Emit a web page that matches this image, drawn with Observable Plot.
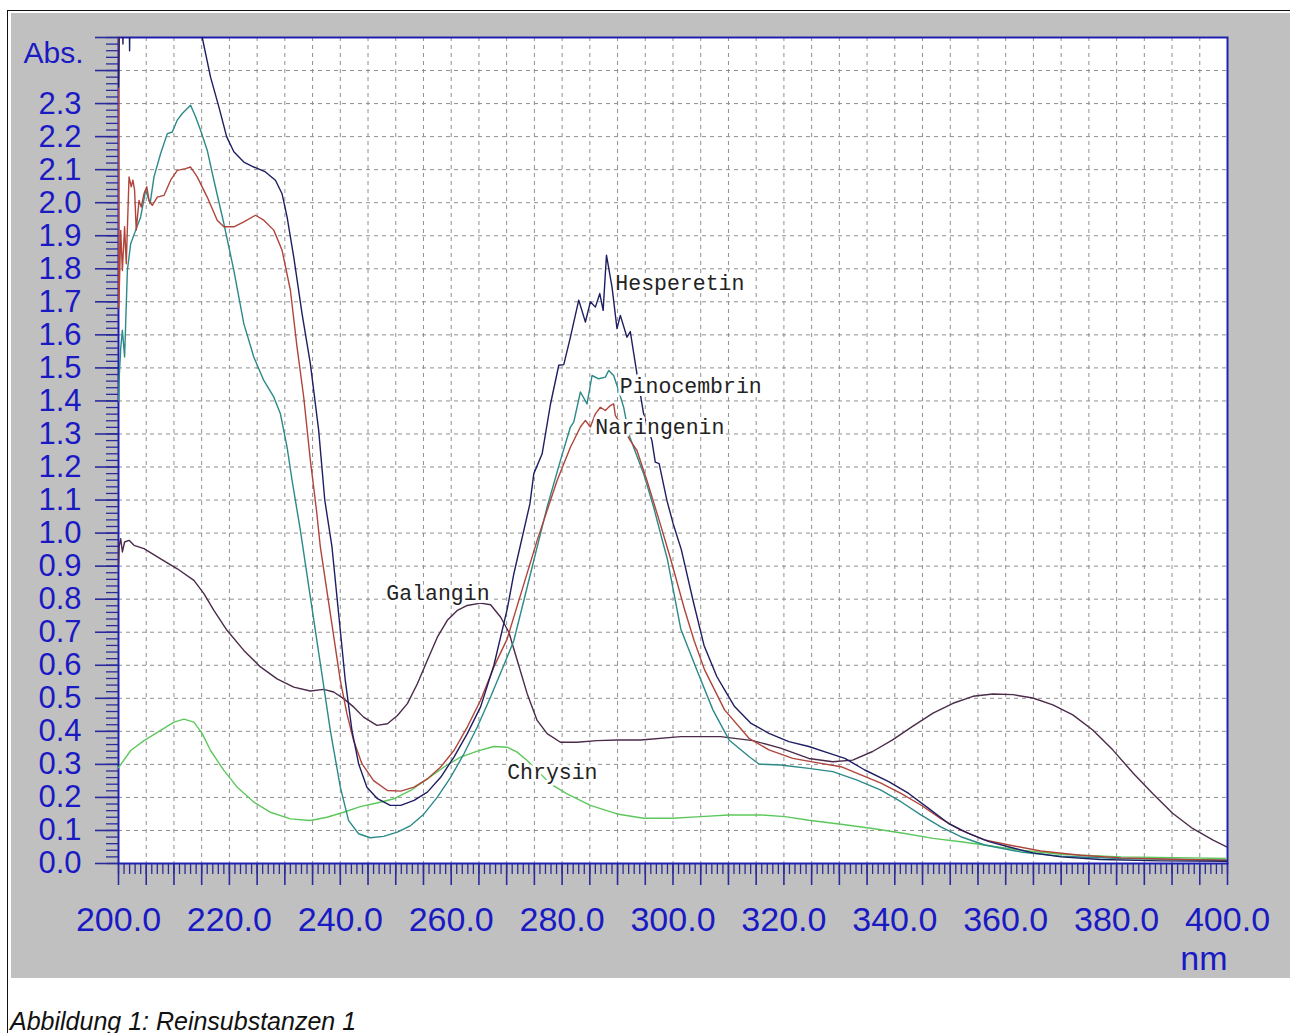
<!DOCTYPE html>
<html>
<head>
<meta charset="utf-8">
<script src="https://cdn.jsdelivr.net/npm/d3@7"></script>
<script src="https://cdn.jsdelivr.net/npm/@observablehq/plot@0.6"></script>
<style>
  html, body { margin: 0; padding: 0; background: #ffffff; width: 1290px; height: 1033px; overflow: hidden; }
  #border { position: absolute; left: 7px; top: 10px; width: 1400px; height: 1100px; border-left: 1.5px solid #111; border-top: 1.5px solid #111; }
  #chart { position: absolute; left: 11px; top: 13px; }
  #chart svg { display: block; }
  #caption { position: absolute; left: 10px; top: 1009px; font: italic 25px "Liberation Sans", Arial, sans-serif; line-height: 1; color: #111; white-space: nowrap; }
</style>
</head>
<body>
<div id="border"></div>
<div id="chart"></div>
<div id="caption">Abbildung 1: Reinsubstanzen 1</div>
<script>
// ---- data: [wavelength nm, absorbance] ----
const hesperetin = [[200.0,2.35],[200.2,2.6],[200.7,2.6],[200.8,2.48],[200.9,2.6],[201.9,2.6],[202.0,2.46],[202.1,2.6],[214.0,2.6],[215.1,2.50],[216.6,2.38],[218.1,2.29],[219.5,2.20],[220.8,2.154],[222.6,2.123],[224.4,2.108],[226.5,2.093],[228.3,2.068],[229.5,2.027],[230.4,1.957],[231.6,1.836],[233.1,1.664],[234.6,1.513],[236.1,1.311],[237.2,1.10],[238.5,0.958],[239.7,0.756],[240.9,0.554],[242.1,0.403],[243.3,0.302],[244.8,0.231],[246.7,0.196],[249.0,0.176],[250.9,0.176],[253.3,0.191],[255.7,0.216],[258.1,0.261],[260.5,0.322],[262.9,0.393],[265.3,0.474],[267.7,0.60],[270.1,0.77],[271.3,0.877],[274.2,1.089],[274.9,1.18],[276.4,1.24],[277.9,1.39],[279.4,1.508],[280.3,1.51],[281.5,1.593],[283.0,1.705],[284.2,1.639],[285.1,1.70],[286.0,1.684],[286.8,1.725],[287.4,1.674],[288.0,1.841],[289.0,1.745],[289.9,1.619],[290.5,1.659],[291.7,1.593],[292.3,1.61],[293.5,1.482],[294.7,1.361],[296.2,1.28],[296.8,1.215],[297.5,1.21],[298.9,1.099],[300.0,1.03],[301.5,0.95],[303.7,0.79],[305.6,0.66],[307.9,0.566],[309.5,0.52],[311.1,0.475],[314.0,0.425],[317.3,0.394],[320.9,0.369],[324.5,0.354],[328.1,0.334],[331.0,0.318],[334.6,0.283],[338.9,0.248],[342.5,0.212],[346.1,0.167],[349.7,0.121],[353.3,0.091],[357.0,0.066],[360.6,0.05],[364.9,0.032],[370.0,0.02],[377.0,0.012],[388.0,0.008],[400.0,0.007]];

const pinocembrin = [[200.0,1.40],[200.1,1.462],[200.4,1.56],[200.7,1.614],[201.1,1.533],[201.6,1.795],[202.2,1.876],[203.1,1.917],[204.0,1.957],[204.9,2.038],[205.7,1.997],[206.4,2.078],[207.6,2.149],[208.8,2.209],[209.7,2.214],[210.6,2.25],[211.5,2.27],[213.0,2.295],[213.9,2.26],[214.8,2.219],[216.0,2.159],[217.2,2.068],[219.0,1.937],[220.8,1.795],[222.6,1.634],[224.4,1.533],[226.2,1.462],[228.0,1.412],[229.2,1.361],[230.4,1.26],[231.3,1.16],[232.8,1.008],[234.6,0.806],[236.4,0.605],[238.2,0.403],[240.0,0.231],[241.5,0.13],[243.3,0.09],[245.4,0.078],[247.8,0.082],[250.3,0.095],[252.7,0.115],[255.1,0.15],[257.5,0.201],[259.9,0.261],[262.3,0.332],[264.7,0.413],[267.1,0.504],[270.1,0.625],[271.3,0.675],[274.3,0.877],[277.3,1.079],[279.7,1.22],[281.5,1.321],[282.1,1.336],[283.3,1.427],[284.5,1.391],[285.4,1.477],[286.6,1.467],[287.8,1.472],[288.4,1.492],[289.3,1.477],[289.9,1.447],[291.1,1.381],[292.0,1.301],[292.9,1.26],[294.7,1.18],[296.5,1.079],[298.2,0.97],[299.0,0.92],[301.4,0.71],[304.3,0.586],[307.2,0.465],[310.1,0.374],[313.7,0.324],[315.5,0.301],[319.4,0.298],[324.5,0.288],[328.8,0.278],[333.1,0.253],[337.5,0.222],[341.1,0.187],[344.7,0.147],[348.3,0.111],[351.9,0.081],[356.2,0.056],[362.7,0.035],[369.9,0.022],[380.8,0.015],[400.0,0.010]];

const naringenin = [[200.0,2.6],[200.05,1.68],[200.2,1.775],[200.4,1.916],[200.7,1.795],[201.1,1.927],[201.4,1.815],[201.9,2.078],[202.3,2.048],[202.6,2.068],[202.9,2.038],[203.2,1.917],[203.7,2.007],[204.1,1.987],[204.6,2.027],[205.1,2.048],[205.5,2.007],[206.1,1.992],[207.0,2.017],[208.2,2.022],[209.4,2.068],[210.6,2.098],[212.1,2.103],[213.0,2.108],[214.2,2.078],[216.0,2.017],[217.8,1.947],[219.0,1.927],[220.8,1.927],[222.6,1.942],[224.7,1.962],[226.2,1.947],[228.0,1.917],[229.5,1.856],[231.0,1.735],[232.2,1.563],[233.4,1.412],[234.6,1.22],[235.7,1.07],[236.4,0.958],[238.2,0.756],[240.0,0.554],[241.2,0.453],[242.4,0.372],[243.9,0.302],[246.0,0.251],[248.5,0.221],[250.9,0.219],[253.3,0.231],[255.7,0.256],[258.1,0.292],[260.5,0.342],[262.9,0.413],[265.3,0.494],[267.7,0.595],[270.1,0.68],[275.5,0.978],[279.1,1.159],[281.5,1.26],[283.3,1.321],[284.2,1.341],[285.1,1.321],[286.0,1.361],[286.9,1.381],[287.8,1.371],[288.7,1.386],[289.3,1.391],[289.6,1.356],[292.3,1.28],[293.5,1.25],[295.3,1.159],[297.7,1.028],[299.6,0.92],[302.1,0.768],[303.8,0.675],[305.7,0.586],[309.3,0.465],[313.7,0.379],[317.3,0.344],[321.6,0.318],[326.7,0.303],[330.3,0.293],[333.9,0.268],[337.5,0.243],[341.1,0.212],[344.7,0.177],[348.3,0.136],[351.9,0.101],[356.2,0.071],[360.6,0.056],[366.3,0.038],[373.5,0.025],[380.8,0.017],[391.6,0.012],[400.0,0.010]];

const galangin = [[200.0,0.907],[200.1,0.958],[200.4,0.983],[200.7,0.943],[201.1,0.973],[201.9,0.978],[202.8,0.963],[204.6,0.953],[207.6,0.922],[210.6,0.892],[213.6,0.857],[215.4,0.817],[217.2,0.766],[219.6,0.705],[222.6,0.645],[225.6,0.595],[228.6,0.559],[231.6,0.534],[234.6,0.522],[237.0,0.527],[238.8,0.519],[240.6,0.499],[242.4,0.474],[244.2,0.443],[246.6,0.418],[248.5,0.423],[250.3,0.448],[252.1,0.484],[253.9,0.544],[255.7,0.615],[257.5,0.685],[259.3,0.736],[261.1,0.766],[262.9,0.781],[265.3,0.788],[267.1,0.783],[268.9,0.746],[270.4,0.70],[271.9,0.615],[273.7,0.514],[275.5,0.433],[277.3,0.393],[279.7,0.367],[282.7,0.367],[286.3,0.372],[289.9,0.374],[294.2,0.374],[301.4,0.384],[308.6,0.384],[314.4,0.372],[319.4,0.349],[324.5,0.318],[328.8,0.308],[332.4,0.313],[336.0,0.339],[339.6,0.374],[343.2,0.415],[346.9,0.455],[350.5,0.485],[354.1,0.506],[357.7,0.513],[361.3,0.511],[364.9,0.501],[368.5,0.48],[372.1,0.45],[375.7,0.404],[379.3,0.344],[383.0,0.273],[386.5,0.212],[390.1,0.152],[393.7,0.106],[397.4,0.071],[400.0,0.049]];

const chrysin = [[200.0,0.29],[202.2,0.342],[204.6,0.372],[207.6,0.403],[210.0,0.428],[211.8,0.437],[213.6,0.428],[215.1,0.393],[216.6,0.342],[219.0,0.282],[221.4,0.231],[224.4,0.186],[227.4,0.155],[231.0,0.135],[234.6,0.13],[237.6,0.14],[240.6,0.155],[243.6,0.172],[246.6,0.183],[249.7,0.196],[252.7,0.221],[255.7,0.256],[258.7,0.292],[261.7,0.322],[264.7,0.340],[267.7,0.354],[270.1,0.352],[271.9,0.337],[273.7,0.312],[277.9,0.241],[280.9,0.211],[285.1,0.176],[289.9,0.15],[294.7,0.137],[300.0,0.137],[305.0,0.142],[310.0,0.147],[315.8,0.147],[320.2,0.142],[324.5,0.131],[330.3,0.119],[336.0,0.106],[341.8,0.091],[346.9,0.076],[351.9,0.066],[356.2,0.056],[362.7,0.04],[369.9,0.028],[380.8,0.02],[400.0,0.015]];

// series names, colours, label anchors [nm, abs]
const seriesNames = ["Chrysin", "Galangin", "Pinocembrin", "Naringenin", "Hesperetin"];
const seriesData = [chrysin, galangin, pinocembrin, naringenin, hesperetin];
const seriesColors = ["#5cc85c", "#4b2a4a", "#2a8a88", "#b0443a", "#1e1e62"];
const labelPos = [[270.1, 0.276], [248.3, 0.817], [290.4, 1.445], [286.0, 1.321], [289.6, 1.756]];

// axis tick values
const xTickLabels = [200, 220, 240, 260, 280, 300, 320, 340, 360, 380, 400];
const yTickLabels = [0.0, 0.1, 0.2, 0.3, 0.4, 0.5, 0.6, 0.7, 0.8, 0.9, 1.0, 1.1, 1.2, 1.3, 1.4, 1.5, 1.6, 1.7, 1.8, 1.9, 2.0, 2.1, 2.2, 2.3];

const xMinor = d3.range(200, 401, 1);
const xMajor = d3.range(200, 401, 5);
const xGrid = d3.range(205, 400, 5);
const yMinor = d3.range(0, 126).map(i => i / 50);
const yMajor = d3.range(0, 26).map(i => i / 10);
const yGrid = d3.range(1, 25).map(i => i / 10);

const axisBlue = "#2a2a9c";
const labelBlue = "#1a1ac4";

const rows = seriesData.flatMap((s, i) => s.map(([nm, a]) => ({name: seriesNames[i], nm, a})));
const labels = seriesNames.map((n, i) => ({name: n, nm: labelPos[i][0], a: labelPos[i][1]}));

const chart = Plot.plot({
  width: 1279,
  height: 965,
  marginLeft: 107,
  marginRight: 63,
  marginTop: 24,
  marginBottom: 115,
  style: {background: "#c0c0c0", fontFamily: "'Liberation Sans', Arial, sans-serif", overflow: "visible"},
  x: {domain: [200, 400], axis: null},
  y: {domain: [0, 2.5], axis: null},
  color: {domain: seriesNames, range: seriesColors},
  marks: [
    Plot.frame({fill: "#ffffff", stroke: null}),
    Plot.ruleX(xGrid, {stroke: "#8f8f8f", strokeWidth: 1, strokeDasharray: "4,4"}),
    Plot.ruleY(yGrid, {stroke: "#8f8f8f", strokeWidth: 1, strokeDasharray: "4,4"}),
    // x axis ticks
    Plot.axisX({ticks: xMinor, label: null, tickSize: 11, tickFormat: () => "", stroke: axisBlue, strokeWidth: 1.3}),
    Plot.axisX({ticks: xMajor, label: null, tickSize: 22, tickFormat: () => "", stroke: axisBlue, strokeWidth: 1.6}),
    Plot.axisX({ticks: xTickLabels, label: null, tickSize: 0, tickPadding: 43, tickFormat: d => d.toFixed(1), fontSize: 34, fill: labelBlue}),
    // y axis ticks
    Plot.axisY({ticks: yMinor, label: null, tickSize: 12, tickFormat: () => "", stroke: axisBlue, strokeWidth: 1.3}),
    Plot.axisY({ticks: yMajor, label: null, tickSize: 23, tickFormat: () => "", stroke: axisBlue, strokeWidth: 1.6}),
    Plot.axisY({ticks: yTickLabels, label: null, tickSize: 0, tickPadding: 37, tickFormat: d => d.toFixed(1), fontSize: 31, fill: labelBlue}),
    Plot.frame({stroke: "#2020b0", strokeWidth: 2, fill: "none"}),
    Plot.line(rows, {x: "nm", y: "a", z: "name", stroke: "name", strokeWidth: 1.4, clip: true}),
    Plot.text(labels, {x: "nm", y: "a", text: "name", textAnchor: "start", fontFamily: "'Liberation Mono', 'Courier New', monospace", fontSize: 21.5, fill: "#222", stroke: "white", strokeWidth: 6}),
    Plot.text(["Abs."], {x: 200, y: 2.452, dx: -35, textAnchor: "end", fontSize: 30, fill: labelBlue}),
    Plot.text(["nm"], {x: 400, y: 0, dy: 96, textAnchor: "end", fontSize: 34, fill: labelBlue})
  ]
});
document.getElementById("chart").appendChild(chart);
</script>
</body>
</html>
